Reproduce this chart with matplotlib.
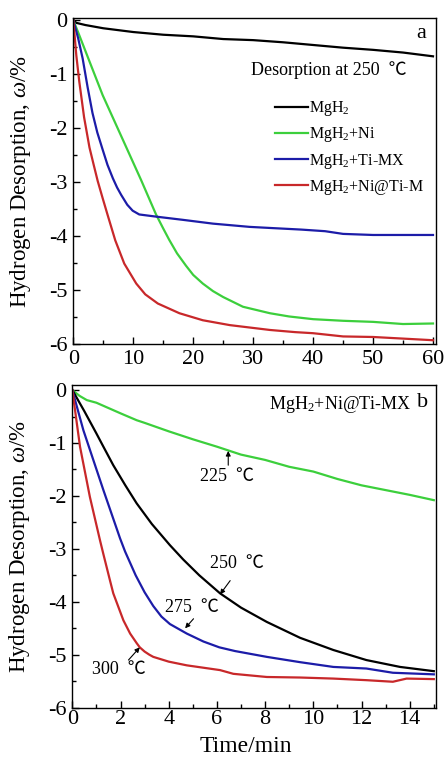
import numpy as np
import matplotlib
matplotlib.use('Agg')
import matplotlib.pyplot as plt
from matplotlib.ticker import MultipleLocator

plt.rcParams['font.family'] = ['Liberation Serif', 'Noto Sans CJK SC', 'DejaVu Sans']
plt.rcParams['mathtext.fontset'] = 'custom'
plt.rcParams['mathtext.rm'] = 'Liberation Serif'
plt.rcParams['mathtext.it'] = 'Liberation Serif:italic'
plt.rcParams['axes.unicode_minus'] = False

# ---- panel a: desorption at 250 C ----
t_mgh2 = [0, 0.5, 2, 5, 10, 15, 20, 25, 30, 35, 40, 45, 50, 55, 60]
w_mgh2 = [0, -0.05, -0.09, -0.15, -0.22, -0.27, -0.30, -0.35, -0.37, -0.41, -0.46, -0.51, -0.55, -0.60, -0.67]

t_ni = [0, 1, 3, 4.9, 8, 11.3, 13.8, 15, 16, 17.3, 18.8, 20, 21.6, 23.3, 25, 28.3, 32.8, 36, 40, 45, 50, 55, 60]
w_ni = [0, -0.28, -0.85, -1.39, -2.15, -2.96, -3.60, -3.86, -4.07, -4.32, -4.55, -4.72, -4.88, -5.02,
        -5.13, -5.31, -5.43, -5.49, -5.54, -5.57, -5.59, -5.63, -5.62]

t_ti = [0, 0.8, 1.56, 2.4, 3.2, 4.0, 4.9, 5.7, 6.6, 7.3, 8, 9, 9.9, 11, 13.8, 18.3, 23.3, 29.4,
        32.8, 38, 42, 45, 50, 55, 60]
w_ti = [0, -0.33, -0.71, -1.25, -1.72, -2.08, -2.40, -2.68, -2.93, -3.10, -3.24, -3.42, -3.53,
        -3.60, -3.64, -3.70, -3.77, -3.83, -3.85, -3.88, -3.91, -3.96, -3.98, -3.98, -3.98]

t_niti = [0, 0.5, 1, 1.8, 2.7, 3.4, 4.07, 4.9, 5.7, 7, 8.5, 10.5, 12, 14.1, 17.7, 21.6, 26.1,
          32.8, 37, 40, 45, 50, 55, 60]
w_niti = [0, -0.65, -1.14, -1.80, -2.36, -2.68, -2.98, -3.30, -3.60, -4.08, -4.51, -4.88, -5.08,
          -5.25, -5.43, -5.56, -5.65, -5.74, -5.78, -5.80, -5.86, -5.87, -5.90, -5.93]

labels_a = ['MgH$_2$', 'MgH$_2$+Ni', 'MgH$_2$+Ti-MX', 'MgH$_2$+Ni@Ti-M']

# ---- panel b: MgH2+Ni@Ti-MX at several temperatures ----
t_225 = [0, 0.3, 0.6, 1, 2, 2.67, 3, 4, 5, 6, 7, 8, 9, 10, 11, 12, 13, 14, 15]
w_225 = [0, -0.11, -0.19, -0.24, -0.44, -0.57, -0.62, -0.78, -0.93, -1.07, -1.22, -1.32, -1.45,
         -1.54, -1.68, -1.80, -1.89, -1.98, -2.08]

t_250 = [0, 0.5, 1, 1.29, 1.7, 2.2, 2.67, 3.3, 4.05, 4.6, 5.27, 6.13, 7, 8.07, 9.45, 10.83,
         12.2, 13.6, 15]
w_250 = [0, -0.40, -0.82, -1.07, -1.42, -1.80, -2.14, -2.53, -2.93, -3.20, -3.50, -3.84, -4.11,
         -4.38, -4.68, -4.91, -5.10, -5.23, -5.31]

t_275 = [0, 0.46, 1.29, 1.98, 2.19, 2.63, 3.0, 3.36, 3.7, 4.05, 4.75, 5.44, 6.1, 6.75, 8.07,
         9.45, 10.83, 12.2, 13.3, 15]
w_275 = [0, -0.76, -1.89, -2.80, -3.05, -3.50, -3.82, -4.08, -4.28, -4.42, -4.60, -4.75, -4.86,
         -4.93, -5.04, -5.14, -5.23, -5.26, -5.34, -5.37]

t_300 = [0, 0.32, 0.73, 1.15, 1.29, 1.56, 1.7, 2.12, 2.4, 2.67, 2.8, 3.0, 3.2, 3.36, 4.0, 4.75,
         6.13, 6.68, 8.07, 9.45, 10.83, 12.2, 13.3, 13.87, 15]
w_300 = [0, -1.07, -2.02, -2.84, -3.10, -3.59, -3.84, -4.35, -4.60, -4.78, -4.86, -4.94, -5.00,
         -5.04, -5.13, -5.20, -5.29, -5.36, -5.42, -5.43, -5.45, -5.48, -5.51, -5.45, -5.46]

temp_labels = ['225  ℃', '250  ℃', '275  ℃', '300  ℃']

c_black = '#000000'
c_green = '#3ccf3c'
c_blue = '#1c1ca8'
c_red = '#c8282a'

fig = plt.figure(figsize=(4.47, 7.58), dpi=100)
W, H = 447.0, 758.0
ax1 = fig.add_axes([73.3 / W, 1 - 344 / H, (436 - 73.3) / W, (344 - 18) / H])
ax2 = fig.add_axes([72.3 / W, 1 - 707.7 / H, (436 - 72.3) / W, (707.7 - 385) / H])


def style_axes(ax):
    ax.tick_params(which='both', direction='in', top=False, right=False, labelsize=16, width=1)
    ax.tick_params(which='major', length=5)
    ax.tick_params(which='minor', length=3)
    ax.tick_params(axis='y', pad=4)
    ax.tick_params(axis='x', pad=2)
    ax.yaxis.set_major_locator(MultipleLocator(1))
    ax.yaxis.set_minor_locator(MultipleLocator(0.5))
    for s in ax.spines.values():
        s.set_linewidth(1.0)
    ax.set_ylabel('Hydrogen Desorption, $\\omega$/%', fontsize=16.5)
    ax.yaxis.set_label_coords(-0.11, 0.5)


lw = 1.6
ax1.plot(t_mgh2, w_mgh2, color=c_black, lw=lw, label=labels_a[0])
ax1.plot(t_ni, w_ni, color=c_green, lw=lw, label=labels_a[1])
ax1.plot(t_ti, w_ti, color=c_blue, lw=lw, label=labels_a[2])
ax1.plot(t_niti, w_niti, color=c_red, lw=lw, label=labels_a[3])
ax1.set_xlim(0, 60.5)
ax1.set_ylim(-6, 0.04)
ax1.xaxis.set_major_locator(MultipleLocator(10))
ax1.xaxis.set_minor_locator(MultipleLocator(5))
style_axes(ax1)
ax1.tick_params(axis='x', pad=4)
ax1.text(0.96, 0.953, 'a', transform=ax1.transAxes, fontsize=16, ha='center', va='center')
ax1.text(0.49, 0.84, 'Desorption at 250  ℃', transform=ax1.transAxes, fontsize=13,
         ha='left', va='center')
ax1.legend(loc='upper left', bbox_to_anchor=(0.525, 0.785), frameon=False, fontsize=11.5,
           handlelength=2.1, handletextpad=0.05, labelspacing=0.45, borderpad=0.2)

ax2.plot(t_225, w_225, color=c_green, lw=lw)
ax2.plot(t_250, w_250, color=c_black, lw=lw)
ax2.plot(t_275, w_275, color=c_blue, lw=lw)
ax2.plot(t_300, w_300, color=c_red, lw=lw)
ax2.set_xlim(0, 15.09)
ax2.set_ylim(-6, 0.095)
ax2.xaxis.set_major_locator(MultipleLocator(2))
ax2.xaxis.set_minor_locator(MultipleLocator(1))
style_axes(ax2)
ax2.set_xlabel('Time/min', fontsize=17)
ax2.xaxis.set_label_coords(0.477, -0.088)
ax2.text(0.964, 0.947, 'b', transform=ax2.transAxes, fontsize=16, ha='center', va='center')
ax2.text(0.736, 0.94, 'MgH$_2$+Ni@Ti-MX', transform=ax2.transAxes, fontsize=13,
         ha='center', va='center')

# temperature labels with arrows pointing at the curves
txt_pos = [(6.41, -1.64), (6.82, -3.28), (4.95, -4.10), (1.94, -5.28)]
arr_tail = [(6.47, -1.42), (6.55, -3.60), (5.03, -4.32), (2.33, -5.10)]
arr_head = [(6.47, -1.15), (6.13, -3.86), (4.68, -4.50), (2.80, -4.86)]
for lab, p, a, b in zip(temp_labels, txt_pos, arr_tail, arr_head):
    ax2.text(p[0], p[1], lab, fontsize=13, ha='center', va='center')
    ax2.annotate('', xy=b, xytext=a,
                 arrowprops=dict(arrowstyle='-|>', color='black', lw=0.8, mutation_scale=7,
                                 shrinkA=0, shrinkB=0))

fig.savefig('out.png', dpi=100)
